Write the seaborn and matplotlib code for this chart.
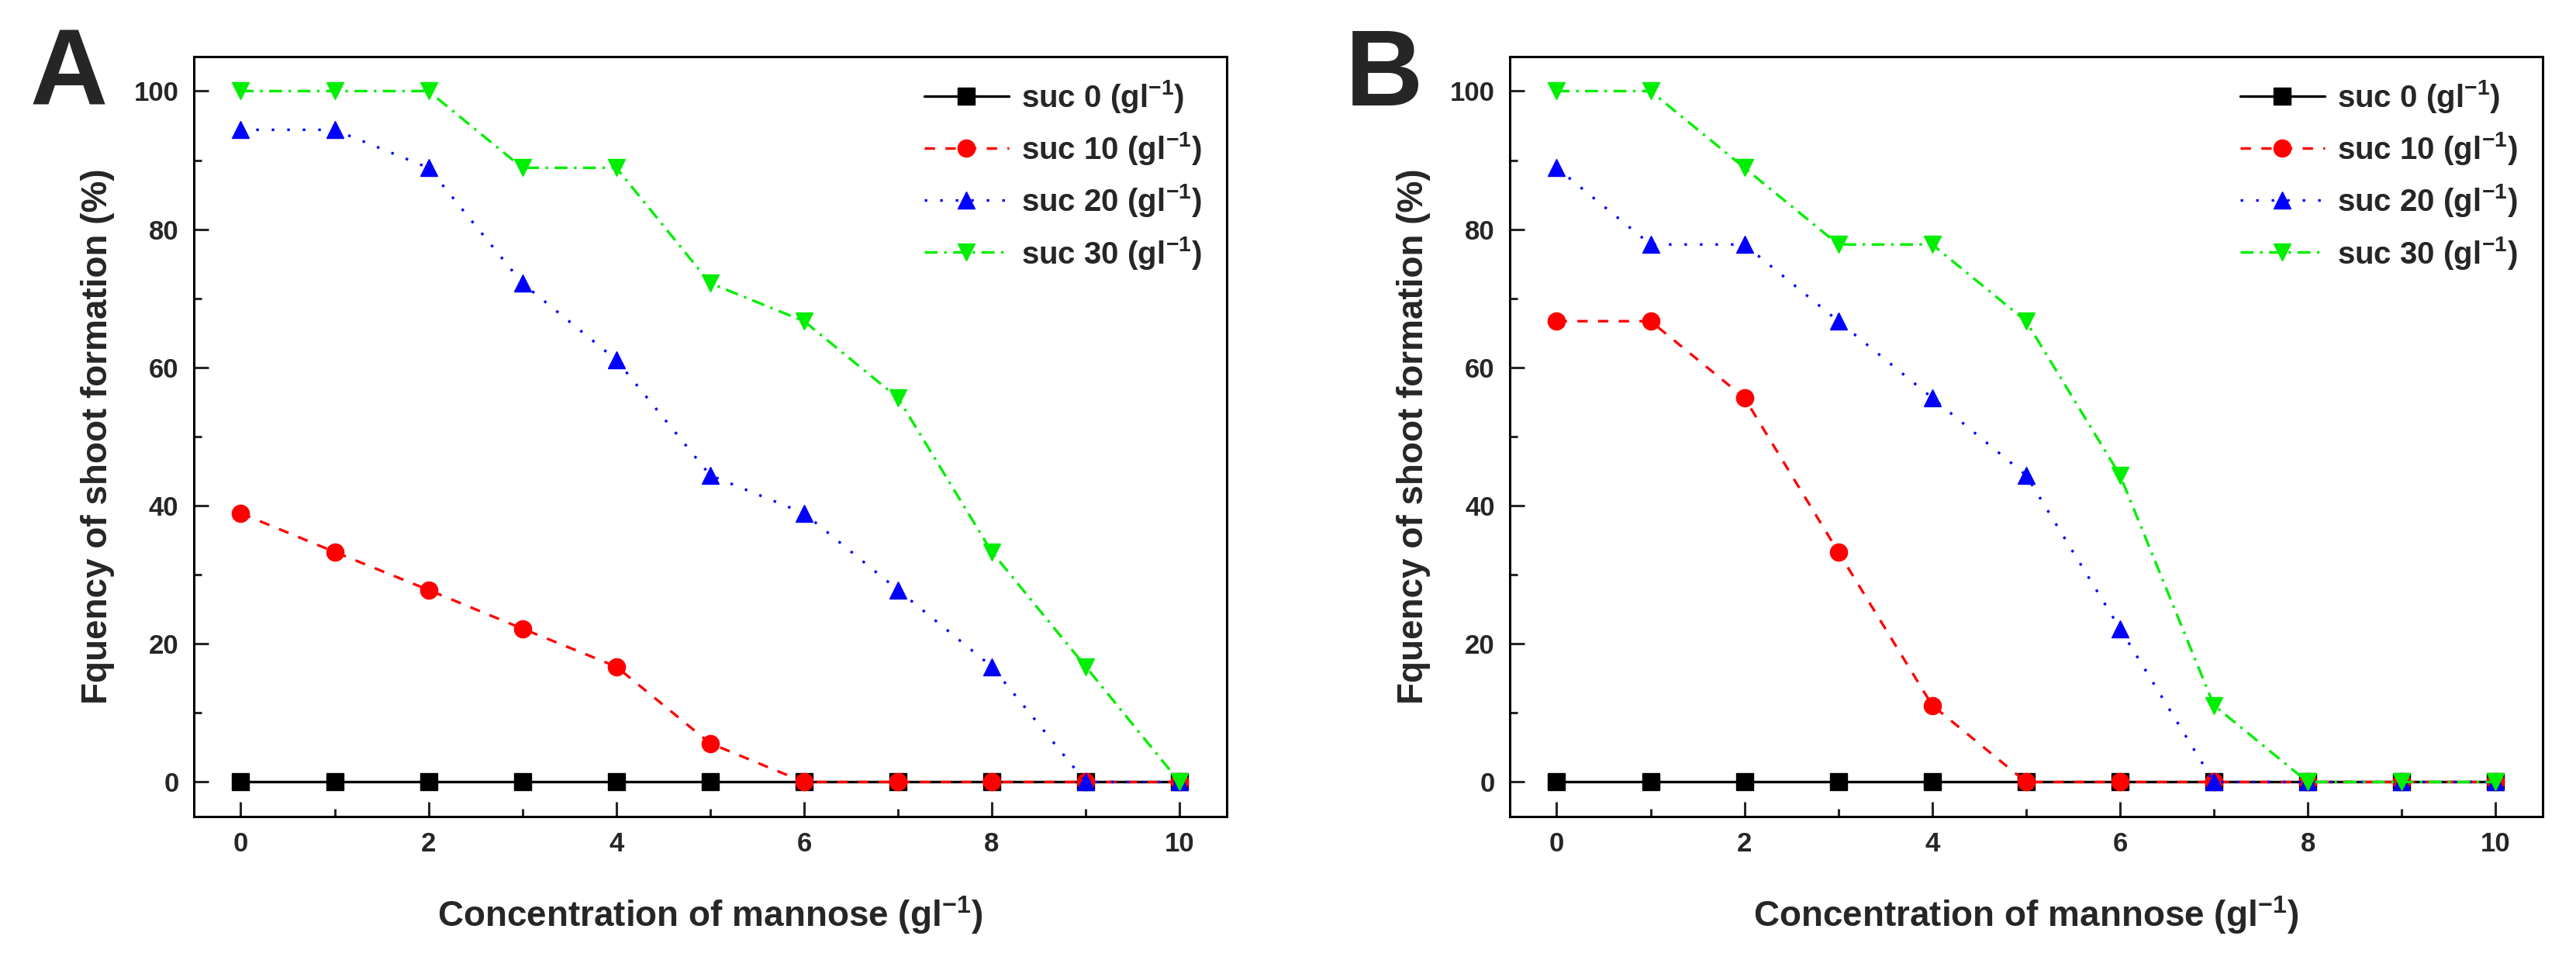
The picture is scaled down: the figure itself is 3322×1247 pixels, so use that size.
import matplotlib
matplotlib.use("Agg")
import matplotlib.pyplot as plt
from matplotlib.ticker import MultipleLocator
import seaborn as sns
import pandas as pd

# mannose concentrations (g/l)
mannose = [0, 1, 2, 3, 4, 5, 6, 7, 8, 9, 10]

# panel A: shoot formation frequency (%)
a_suc0 = [0, 0, 0, 0, 0, 0, 0, 0, 0, 0, 0]
a_suc10 = [38.9, 33.3, 27.8, 22.2, 16.7, 5.6, 0, 0, 0, 0, 0]
a_suc20 = [94.4, 94.4, 88.9, 72.2, 61.1, 44.4, 38.9, 27.8, 16.7, 0, 0]
a_suc30 = [100, 100, 100, 88.9, 88.9, 72.2, 66.7, 55.6, 33.3, 16.7, 0]

# panel B
b_suc0 = [0, 0, 0, 0, 0, 0, 0, 0, 0, 0, 0]
b_suc10 = [66.7, 66.7, 55.6, 33.3, 11.1, 0, 0, 0, 0, 0, 0]
b_suc20 = [88.9, 77.8, 77.8, 66.7, 55.6, 44.4, 22.2, 0, 0, 0, 0]
b_suc30 = [100, 100, 88.9, 77.8, 77.8, 66.7, 44.4, 11.1, 0, 0, 0]

series_labels = ["suc 0 (gl$^{-1}$)", "suc 10 (gl$^{-1}$)",
                 "suc 20 (gl$^{-1}$)", "suc 30 (gl$^{-1}$)"]
colors = ["#000000", "#ff0000", "#0000ff", "#00ee00"]
markers = ["s", "o", "^", "v"]
dashes = [(None, None), (4, 4), (1, 5), (5, 2.5, 1, 2.5)]

sns.set_style("ticks")
plt.rcParams["font.family"] = ["Liberation Sans", "DejaVu Sans"]
plt.rcParams["font.weight"] = "bold"
plt.rcParams["axes.labelweight"] = "bold"
plt.rcParams["mathtext.fontset"] = "custom"
plt.rcParams["mathtext.rm"] = "Liberation Sans:bold"
plt.rcParams["mathtext.it"] = "Liberation Sans:bold"
plt.rcParams["mathtext.bf"] = "Liberation Sans:bold"
plt.rcParams["mathtext.default"] = "rm"

fig = plt.figure(figsize=(33.23, 12.47), dpi=100)
ax_a = fig.add_axes([0.0752, 0.1556, 0.4008, 0.7859])
ax_b = fig.add_axes([0.5859, 0.1556, 0.4008, 0.7859])

panels = [
    (ax_a, [a_suc0, a_suc10, a_suc20, a_suc30], "A", 0.0115),
    (ax_b, [b_suc0, b_suc10, b_suc20, b_suc30], "B", 0.522),
]

for ax, values, letter, lx in panels:
    for vals, lab, col, mk, ds in zip(values, series_labels, colors, markers, dashes):
        df = pd.DataFrame({"mannose": mannose, "freq": vals})
        line_kw = dict(linestyle="-") if ds[0] is None else dict(dashes=ds)
        sns.lineplot(data=df, x="mannose", y="freq", ax=ax, color=col,
                     marker=mk, markersize=16, mec=col, mfc=col, mew=1,
                     linewidth=2.4, label=lab, **line_kw)

    ax.set_xlim(-0.5, 10.5)
    ax.set_ylim(-5, 105)
    ax.xaxis.set_major_locator(MultipleLocator(2))
    ax.xaxis.set_minor_locator(MultipleLocator(1))
    ax.yaxis.set_major_locator(MultipleLocator(20))
    ax.yaxis.set_minor_locator(MultipleLocator(10))
    ax.tick_params(which="both", direction="in", top=False, right=False,
                   width=2.2, labelsize=25)
    ax.tick_params(which="major", length=14, pad=14)
    ax.tick_params(which="minor", length=7)
    for lbl in ax.get_xticklabels() + ax.get_yticklabels():
        lbl.set_fontweight("bold")
    for sp in ax.spines.values():
        sp.set_linewidth(2.2)
        sp.set_color("black")

    ax.set_xlabel("Concentration of mannose (gl$^{-1}$)", fontsize=33,
                  fontweight="bold", labelpad=34)
    ax.set_ylabel("Fquency of shoot formation (%)", fontsize=33,
                  fontweight="bold", labelpad=18)

    leg = ax.legend(loc="upper right", bbox_to_anchor=(0.997, 1.0),
                    frameon=False, fontsize=29, handlelength=2.7,
                    numpoints=1, labelspacing=0.5, handletextpad=0.4,
                    borderaxespad=0.3)
    for t in leg.get_texts():
        t.set_fontweight("bold")

    fig.text(lx, 0.972, letter, fontsize=100, fontweight="bold", va="top",
             ha="left")

fig.savefig("out.png", dpi=100)
